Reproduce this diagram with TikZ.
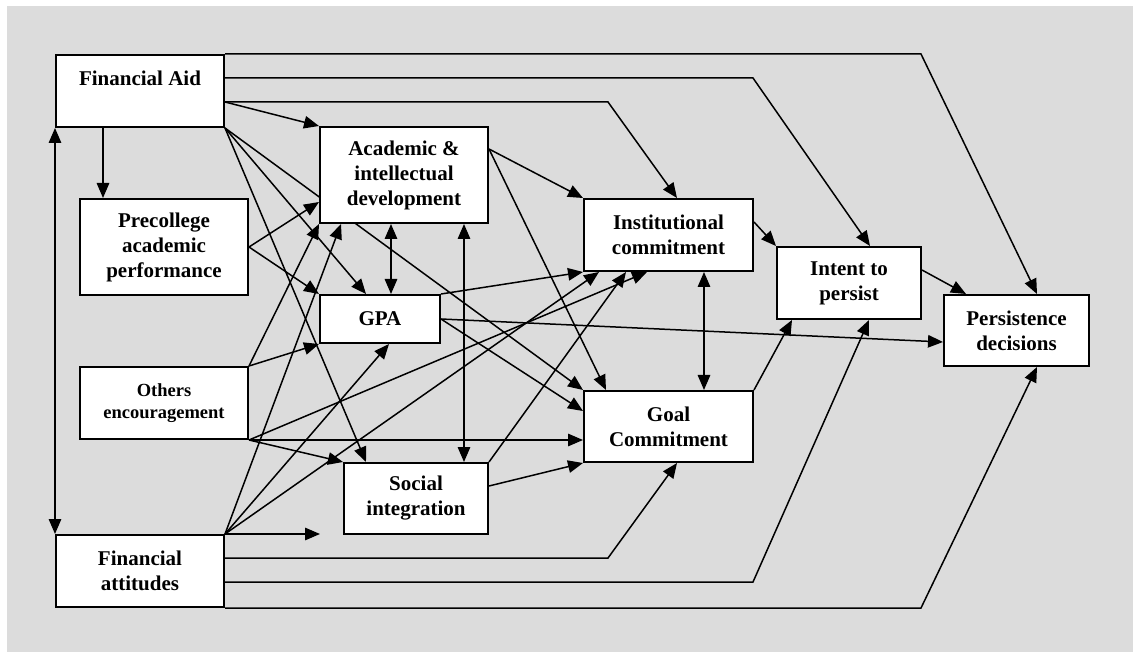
\documentclass[tikz,border=0pt]{standalone}
\usepackage{fontspec}
\setmainfont{Liberation Serif}
\usetikzlibrary{arrows.meta}
\pgfdeclarelayer{bg}
\pgfdeclarelayer{lines}
\pgfsetlayers{bg,lines,main}
\definecolor{paper}{HTML}{DCDCDC}
\begin{document}
\begin{tikzpicture}[x=1pt,y=-1pt,
  box/.style={draw=black,line width=2pt,fill=white,inner sep=0pt,align=center,
    font=\fontsize{21}{25}\selectfont\bfseries},
  smallbox/.style={box,font=\fontsize{18.5}{22}\selectfont\bfseries},
  conn/.style={line width=1.5pt,-{Triangle[length=15pt,width=12.5pt]}},
  biconn/.style={line width=1.5pt,{Triangle[length=15pt,width=12.5pt]}-{Triangle[length=15pt,width=12.5pt]}}]
\useasboundingbox (0,0) rectangle (1133,652);
\begin{pgfonlayer}{bg}
  \fill[white] (0,0) rectangle (1133,652);
  \fill[paper] (7,6) rectangle (1133,652);
\end{pgfonlayer}

% nodes
\node[box,minimum width=168pt,minimum height=72pt] (fa) at (140,91) {Financial Aid\\~};
\node[box,minimum width=168pt,minimum height=96pt] (pre) at (164,247) {Precollege\\academic\\performance};
\node[box,minimum width=168pt,minimum height=96pt] (acad) at (404,175) {Academic \&\\intellectual\\development};
\node[box,minimum width=120pt,minimum height=48pt] (gpa) at (380,319) {GPA};
\node[smallbox,minimum width=168pt,minimum height=72pt] (oth) at (164,403) {Others\\encouragement};
\node[box,minimum width=168pt,minimum height=72pt] (fatt) at (140,571) {Financial\\attitudes};
\node[box,minimum width=144pt,minimum height=71pt] (soc) at (416,498.5) {Social\\integration};
\node[box,minimum width=169pt,minimum height=72pt] (inst) at (668.5,235) {Institutional\\commitment};
\node[box,minimum width=144pt,minimum height=72pt] (intent) at (849,283) {Intent to\\persist};
\node[box,minimum width=145pt,minimum height=71pt] (pers) at (1016.5,330.5) {Persistence\\decisions};
\node[box,minimum width=169pt,minimum height=71pt] (goal) at (668.5,426.5) {Goal\\Commitment};

% bend columns
\coordinate (kA) at (921,0);
\coordinate (kB) at (753,0);
\coordinate (kC) at (608,0);
\coordinate (fattend) at (320,535);

\begin{pgfonlayer}{lines}
  % Financial Aid long routes
  \draw[conn] (fa.north east) -- (fa.north east -| kA) -- ([xshift=94pt]pers.north west);
  \draw[conn] ([yshift=-24pt]fa.north east) -- ([yshift=-24pt]fa.north east -| kB) -- ([xshift=94pt]intent.north west);
  \draw[conn] ([yshift=-48pt]fa.north east) -- ([yshift=-48pt]fa.north east -| kC) -- ([xshift=94pt]inst.north west);
  \draw[conn] ([yshift=-48pt]fa.north east) -- (acad.north west);
  \draw[conn] ([xshift=48pt]fa.south west) -- ([xshift=24pt]pre.north west);
  \draw[conn] (fa.south east) -- ([xshift=47pt]gpa.north west);
  \draw[conn] (fa.south east) -- ([xshift=23pt]soc.north west);
  \draw[conn] (fa.south east) -- (goal.north west);
  \draw[biconn] (fa.south west) -- (fatt.north west);
  % Precollege
  \draw[conn] (pre.east) -- ([yshift=22pt]acad.south west);
  \draw[conn] (pre.east) -- (gpa.north west);
  % Others encouragement
  \draw[conn] (oth.north east) -- (gpa.south west);
  \draw[conn] (oth.north east) -- (acad.south west);
  \draw[conn] (oth.south east) -- (oth.south east -| goal.west);
  \draw[conn] (oth.south east) -- (soc.north west);
  \draw[conn] (oth.south east) -- ([xshift=64pt]inst.south west);
  % Financial attitudes
  \draw[conn] (fatt.north east) -- ([xshift=22pt]acad.south west);
  \draw[conn] (fatt.north east) -- ([xshift=70pt]gpa.south west);
  \draw[conn] (fatt.north east) -- ([xshift=16pt]inst.south west);
  \draw[conn] (fatt.north east) -- (fatt.north east -| fattend);
  \draw[conn] ([yshift=-24pt]fatt.north east) -- ([yshift=-24pt]fatt.north east -| kC) -- ([xshift=94pt]goal.south west);
  \draw[conn] ([yshift=-48pt]fatt.north east) -- ([yshift=-48pt]fatt.north east -| kB) -- ([xshift=93pt]intent.south west);
  \draw[conn] (fatt.south east) -- (fatt.south east -| kA) -- ([xshift=94pt]pers.south west);
  % Academic
  \draw[biconn] ([xshift=72pt]acad.south west) -- ([xshift=72pt]gpa.north west);
  \draw[biconn] ([xshift=145pt]acad.south west) -- ([xshift=121pt]soc.north west);
  \draw[conn] ([yshift=-23pt]acad.north east) -- (inst.north west);
  \draw[conn] ([yshift=-23pt]acad.north east) -- ([xshift=23pt]goal.north west);
  % GPA
  \draw[conn] (gpa.north east) -- (inst.south west);
  \draw[conn] (gpa.east) -- ([yshift=-48pt]pers.north west);
  \draw[conn] (gpa.east) -- ([yshift=-21pt]goal.north west);
  % Social
  \draw[conn] (soc.north east) -- ([xshift=43pt]inst.south west);
  \draw[conn] ([yshift=-24pt]soc.north east) -- (goal.south west);
  % Commitments
  \draw[biconn] ([xshift=121pt]inst.south west) -- ([xshift=121pt]goal.north west);
  \draw[conn] ([yshift=-24pt]inst.north east) -- (intent.north west);
  \draw[conn] (goal.north east) -- ([xshift=16pt]intent.south west);
  \draw[conn] ([yshift=-24pt]intent.north east) -- ([xshift=23pt]pers.north west);
\end{pgfonlayer}
\end{tikzpicture}
\end{document}
